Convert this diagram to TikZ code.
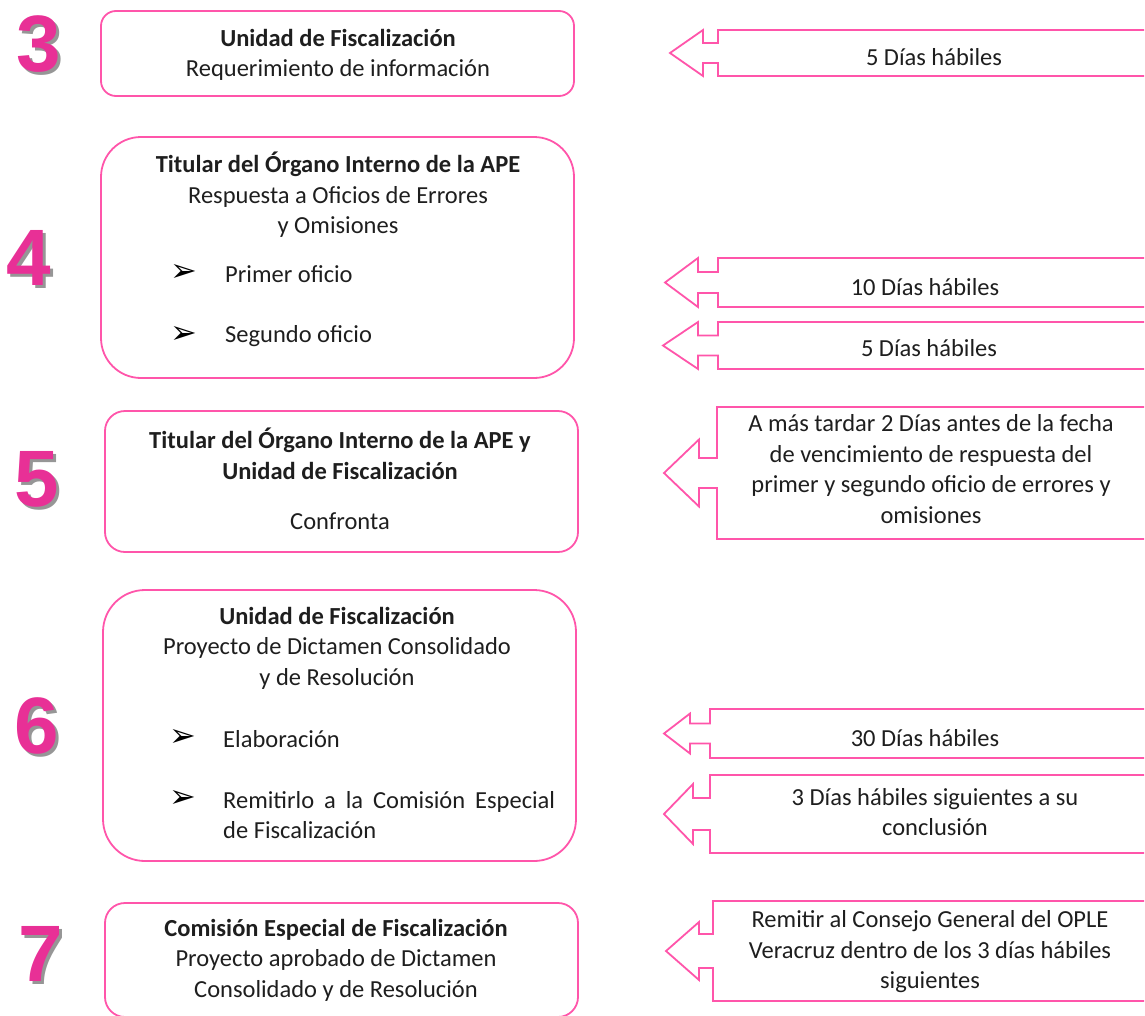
\documentclass[tikz,border=0pt]{standalone}
\usepackage{fontspec}
\setmainfont{Carlito}
\newfontfamily\numfont{Liberation Sans}
\newfontfamily\symfont{DejaVu Sans}
\definecolor{pinkline}{RGB}{255,85,170}
\definecolor{numpink}{RGB}{232,48,150}
\definecolor{numshadow}{RGB}{150,150,150}
\definecolor{txt}{RGB}{30,30,30}
\newcommand\mycallout[7]{%
  \pgfmathsetmacro\cy{(#1+#2)/2}%
  \draw[callbox] (1144,#1) -- (#3,#1) -- (#3,{\cy-#5}) -- (#4,{\cy-#5}) -- (#4,{\cy-#6}) -- (#7,\cy) -- (#4,{\cy+#6}) -- (#4,{\cy+#5}) -- (#3,{\cy+#5}) -- (#3,#2) -- (1144,#2);}
\newcommand\shadednum[1]{\rlap{\kern3pt\raisebox{-3pt}{\color{numshadow}#1}}{\color{numpink}#1}}
\tikzset{
  stagebox/.style={draw=pinkline, line width=1.8pt},
  callbox/.style={draw=pinkline, line width=1.8pt, line join=miter},
  lbl/.style={text=txt, align=center, inner sep=0pt, font=\fontsize{24.5}{30.5}\selectfont},
  lbll/.style={text=txt, align=left, anchor=west, inner sep=0pt, font=\fontsize{24.5}{30.5}\selectfont},
  bul/.style={text=black, inner sep=0pt, font=\symfont\fontsize{32}{32}\selectfont},
  num/.style={inner sep=0pt, font=\numfont\bfseries\fontsize{80}{80}\selectfont},
}
\begin{document}
\begin{tikzpicture}[x=1pt,y=-1pt]
\useasboundingbox (0,0) rectangle (1145,1015);

% numbers
\foreach \n/\x/\y in {3/39/46, 4/29/259, 5/37/481, 6/37/727, 7/41/955}{
  \node[num] (n\n) at (\x,\y) {\shadednum{\n}};
}

% stage boxes
\draw[stagebox, rounded corners=15pt] (101,11) rectangle (574,96);
\draw[stagebox, rounded corners=40pt] (101,137) rectangle (574,378);
\draw[stagebox, rounded corners=20pt] (105,411) rectangle (578,552);
\draw[stagebox, rounded corners=42pt] (103,590) rectangle (576,861);
\draw[stagebox, rounded corners=20pt] (105,903) rectangle (578,1017);

% box 3
\node[lbl] (t3) at (338,55) {\textbf{Unidad de Fiscalización}\\Requerimiento de información};
% box 4
\node[lbl] (t4) at (338,195) {\textbf{Titular del Órgano Interno de la APE}\\Respuesta a Oficios de Errores\\y Omisiones};
\node[bul] (b41) at (184,273) {➢};
\node[lbll] (p41) at (225,274) {Primer oficio};
\node[bul] (b42) at (184,335) {➢};
\node[lbll] (p42) at (225,336) {Segundo oficio};
% box 5
\node[lbl] (t5) at (340,454) {\textbf{Titular del Órgano Interno de la APE y}\\\textbf{Unidad de Fiscalización}};
\node[lbl] (c5) at (340,521) {Confronta};
% box 6
\node[lbl] (t6) at (337,648) {\textbf{Unidad de Fiscalización}\\Proyecto de Dictamen Consolidado\\y de Resolución};
\node[bul] (b61) at (183,738) {➢};
\node[lbll] (p61) at (223,739) {Elaboración};
\node[bul] (b62) at (183,799) {➢};
\node[lbll] (p62) at (223,815) {\makebox[332pt][s]{Remitirlo a la Comisión Especial}\\de Fiscalización};
% box 7
\node[lbl] (t7) at (336,960) {\textbf{Comisión Especial de Fiscalización}\\Proyecto aprobado de Dictamen\\Consolidado y de Resolución};

% callouts
\mycallout{30}{76}{718}{703}{10}{23}{670}
\mycallout{258}{307}{718}{698}{10.5}{24.5}{665}
\mycallout{322}{369}{718}{698}{10}{23.5}{663}
\mycallout{407}{539}{717}{699}{15}{33.5}{664}
\mycallout{709}{758}{710}{690}{10}{20}{664}
\mycallout{775}{853}{710}{693}{16}{30}{664}
\mycallout{901}{1001}{713}{699}{17}{29}{666}

\node[lbl] (a1) at (934,57) {5 Días hábiles};
\node[lbl] (a2) at (925,287) {10 Días hábiles};
\node[lbl] (a3) at (929,348) {5 Días hábiles};
\node[lbl] (a4) at (931,469) {A más tardar 2 Días antes de la fecha\\de vencimiento de respuesta del\\primer y segundo oficio de errores y\\omisiones};
\node[lbl] (a5) at (925,738) {30 Días hábiles};
\node[lbl] (a6) at (935,812) {3 Días hábiles siguientes a su\\conclusión};
\node[lbl] (a7) at (930,952) {Remitir al Consejo General del OPLE\\Veracruz dentro de los 3 días hábiles\\siguientes};
\end{tikzpicture}
\end{document}
